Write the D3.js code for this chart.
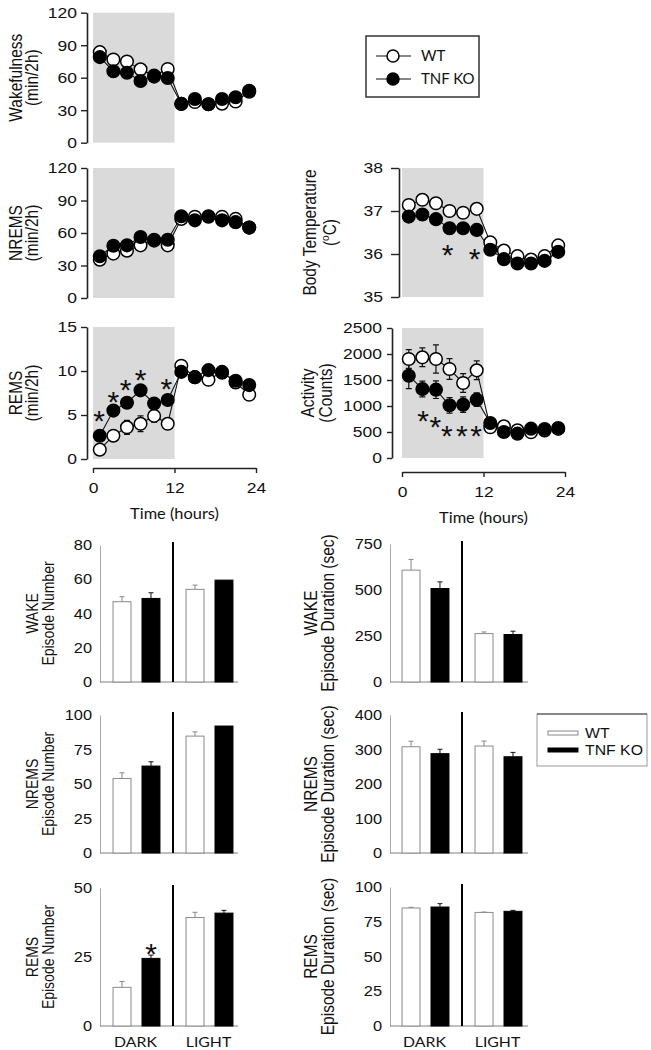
<!DOCTYPE html>
<html><head><meta charset="utf-8">
<script src="https://cdn.jsdelivr.net/npm/d3@7"></script>
<style>body{margin:0;background:#fff}svg{display:block}</style>
</head><body>
<svg id="c" width="651" height="1050"></svg>
<script>
// ---------- DATA ----------
const hours = [1,3,5,7,9,11,13,15,17,19,21,23];
const xTicks = [0,12,24];

const wakeWT = [83.6,76.8,75,67.7,62,68,36,37.6,35.5,36,38,47];
const wakeKO = [79,66,64.6,57,61,59.7,35.8,40.4,35.5,40.4,42,48];
const wakeTicks = [0,30,60,90,120];

const nremWT = [35.4,41,43.7,48.6,53,48.6,73,75,75,75,73,65];
const nremKO = [38.5,48.3,48.6,56.3,53.8,53.8,75.4,71.7,75.4,71.7,70,65];
const nremTicks = [0,30,60,90,120];

const remWT = [1.06,2.65,3.6,4.0,4.9,4.0,10.6,9.3,9.0,9.9,8.7,7.3];
const remKO = [2.65,5.5,6.4,7.8,6.3,6.7,9.9,9.3,10.1,9.8,8.9,8.4];
const remWTerr = [0.2,0.3,0.8,0.9,0.7,0.3,0.3,0.5,0.6,0.4,0.4,0.3];
const remKOerr = [0.3,0.3,0.3,0.3,0.3,0.3,0.3,0.4,0.4,0.3,0.4,0.3];
const remTicks = [0,5,10,15];
const remStars = [[0.9,5.3],[3,7.5],[4.8,8.8],[7,10.0],[10.8,8.9]];

const tempWT = [37.14,37.26,37.18,37.0,36.96,37.05,36.27,36.08,35.95,35.87,35.95,36.2];
const tempKO = [36.87,36.92,36.81,36.6,36.6,36.56,36.1,35.88,35.78,35.78,35.84,36.05];
const tempWTerr = [0.05,0.05,0.05,0.05,0.05,0.05,0.04,0.04,0.04,0.04,0.04,0.04];
const tempKOerr = [0.1,0.12,0.08,0.06,0.08,0.06,0.05,0.05,0.05,0.05,0.05,0.05];
const tempTicks = [35,36,37,38];
const tempStars = [[6.7,36.17],[10.7,36.09]];

const actWT = [1904,1936,1904,1711,1442,1686,590,609,532,494,530,560];
const actKO = [1583,1327,1314,1013,1026,1122,673,500,468,564,557,577];
const actWTerr = [180,180,270,200,180,180,40,40,40,40,40,40];
const actKOerr = [250,150,170,150,150,130,40,40,40,40,40,40];
const actTicks = [0,500,1000,1500,2000,2500];
const actStars = [[3.1,878],[4.9,769],[6.6,596],[8.8,596],[10.9,596]];

const periods = ["DARK","LIGHT"];
const groups = ["WT","TNF KO"];

const wakeNumWT = [46.9,54.1], wakeNumWTerr = [2.9,2.5];
const wakeNumKO = [48.8,59.5], wakeNumKOerr = [3.3,0];
const wakeNumTicks = [0,20,40,60,80];

const wakeDurWT = [608,263], wakeDurWTerr = [58,9];
const wakeDurKO = [508,258], wakeDurKOerr = [36,18];
const wakeDurTicks = [0,250,500,750];

const nremNumWT = [54,84.7], nremNumWTerr = [4.1,3.1];
const nremNumKO = [63,92], nremNumKOerr = [3.1,0];
const nremNumTicks = [0,25,50,75,100];

const nremDurWT = [308,310], nremDurWTerr = [16,14.5];
const nremDurKO = [288,279], nremDurKOerr = [12.6,12.6];
const nremDurTicks = [0,100,200,300,400];

const remNumWT = [14,39.3], remNumWTerr = [2.1,1.9];
const remNumKO = [24.5,40.9], remNumKOerr = [1.2,1];
const remNumTicks = [0,25,50];
const remNumStars = [["DARK","TNF KO",29.3]];

const remDurWT = [84.9,81.7], remDurWTerr = [0.5,0.3];
const remDurKO = [85.6,82.5], remDurKOerr = [2.4,0.7];
const remDurTicks = [0,25,50,75,100];

// ---------- DRAWING ----------
const svg = d3.select('#c');
const SX = 1.13;
const ARIAL = '"Liberation Sans", Arial, sans-serif';
const CAL = 'Lato, "Open Sans", sans-serif';
const fmt = d3.format('d');

function stretch(sel){
  sel.each(function(){
    const t = d3.select(this);
    const x = +t.attr('x') || 0, y = +t.attr('y') || 0;
    t.attr('x', null).attr('y', null)
     .attr('transform', `translate(${x},${y}) scale(${SX},1)`);
  });
}
function vlabel(g, bx, cy, size, fam){
  return g.append('text')
    .attr('transform', `translate(${bx},${cy}) scale(${SX},1) rotate(-90)`)
    .attr('text-anchor','middle')
    .style('font-family', fam || ARIAL).style('font-size', size+'px').attr('fill','#111');
}
function htext(g, x, y, txt, size, fam, anchor){
  return g.append('text')
    .attr('transform', `translate(${x},${y}) scale(${SX},1)`)
    .attr('text-anchor', anchor || 'middle')
    .style('font-family', fam || ARIAL).style('font-size', size+'px').attr('fill','#111')
    .text(txt);
}
function stars(g, data, px, py){
  g.append('g').selectAll('text').data(data).join('text')
    .attr('x',px).attr('y',py).attr('dy','0.62em')
    .attr('text-anchor','middle')
    .style('font-family',ARIAL).style('font-size','30px').attr('fill','#111')
    .text('*');
}

function linePanel(o){
  const g = svg.append('g');
  const x = d3.scaleLinear([0,24],[o.x0,o.x1]);
  const y = d3.scaleLinear(o.domain,[o.yBot,o.yTop]);
  g.append('rect').attr('x',x(0)).attr('y',o.yTop)
    .attr('width',x(12)-x(0)).attr('height',o.yBot-o.yTop).attr('fill','#dadada');
  const ya = g.append('g').attr('transform',`translate(${o.axisX},0)`)
    .call(d3.axisLeft(y).tickValues(o.ticks).tickFormat(fmt).tickSize(o.tick).tickSizeOuter(0).tickPadding(o.pad));
  ya.select('.domain').attr('stroke','#222').attr('stroke-width',1.6);
  ya.selectAll('.tick line').attr('stroke','#222').attr('stroke-width',1.4);
  ya.selectAll('text').style('font-family',ARIAL).style('font-size','15.5px').attr('fill','#111');
  stretch(ya.selectAll('text'));

  const series = [
    {v:o.wt, e:o.wtErr, fill:'#fff'},
    {v:o.ko, e:o.koErr, fill:'#000'}
  ];
  series.forEach(s=>{
    if(!s.e) return;
    g.append('g').selectAll('path')
      .data(hours.map((h,i)=>({h, v:s.v[i], e:s.e[i]})))
      .join('path')
      .attr('d', d=>`M${x(d.h)},${y(d.v-d.e)}V${y(d.v+d.e)}M${x(d.h)-3},${y(d.v+d.e)}h6M${x(d.h)-3},${y(d.v-d.e)}h6`)
      .attr('stroke','#111').attr('stroke-width',1.2).attr('fill','none');
  });
  const line = d3.line().x((d,i)=>x(hours[i])).y(d=>y(d));
  series.forEach(s=>{
    g.append('path').datum(s.v).attr('d',line)
      .attr('fill','none').attr('stroke','#111').attr('stroke-width',1.1);
  });
  series.forEach(s=>{
    g.append('g').selectAll('circle').data(s.v).join('circle')
      .attr('cx',(d,i)=>x(hours[i])).attr('cy',d=>y(d)).attr('r',6.3)
      .attr('fill',s.fill).attr('stroke','#000').attr('stroke-width',1.5);
  });
  if(o.stars) stars(g, o.stars, d=>x(d[0]), d=>y(d[1]));
  if(o.xAxisY){
    const xa = g.append('g').attr('transform',`translate(0,${o.xAxisY})`)
      .call(d3.axisBottom(x).tickValues(xTicks).tickFormat(fmt).tickSize(5).tickSizeOuter(0).tickPadding(9));
    xa.select('.domain').attr('stroke','#222').attr('stroke-width',1.6);
    xa.selectAll('.tick line').attr('stroke','#222').attr('stroke-width',1.4);
    xa.selectAll('text').style('font-family',ARIAL).style('font-size','15.5px').attr('fill','#111');
    stretch(xa.selectAll('text'));
    htext(g, x(12), o.xAxisY+51, 'Time (hours)', 14.5, CAL);
  }
  const cy = (o.yTop+o.yBot)/2;
  vlabel(g, o.lab[0], cy, 15.5).text(o.labels[0]);
  const l2 = vlabel(g, o.lab[1], cy, 15.5);
  if(o.labels[1]==='(oC)'){
    l2.append('tspan').text('(');
    l2.append('tspan').text('o').attr('dy',-6).style('font-size','10px');
    l2.append('tspan').text('C)').attr('dy',6);
  } else l2.text(o.labels[1]);
}

linePanel({x0:93,x1:256,yTop:12.7,yBot:142.7,axisX:87,tick:6,pad:4,domain:[0,120],ticks:wakeTicks,
  wt:wakeWT,ko:wakeKO,labels:['Wakefulness','(min/2h)'],lab:[22,38]});
linePanel({x0:93,x1:256,yTop:168,yBot:298,axisX:87,tick:6,pad:4,domain:[0,120],ticks:nremTicks,
  wt:nremWT,ko:nremKO,labels:['NREMS','(min/2h)'],lab:[22,38]});
linePanel({x0:93,x1:256,yTop:327,yBot:459,axisX:87,tick:6,pad:4,domain:[0,15],ticks:remTicks,
  wt:remWT,ko:remKO,wtErr:remWTerr,koErr:remKOerr,stars:remStars,xAxisY:468,
  labels:['REMS','(min/2h)'],lab:[22,38]});
linePanel({x0:402,x1:565,yTop:168,yBot:297,axisX:399,tick:8,pad:8,domain:[35,38],ticks:tempTicks,
  wt:tempWT,ko:tempKO,wtErr:tempWTerr,koErr:tempKOerr,stars:tempStars,
  labels:['Body Temperature','(oC)'],lab:[316,336]});
linePanel({x0:402,x1:565,yTop:328,yBot:458,axisX:392,tick:5,pad:5,domain:[0,2500],ticks:actTicks,
  wt:actWT,ko:actKO,wtErr:actWTerr,koErr:actKOerr,stars:actStars,xAxisY:472,
  labels:['Activity','(Counts)'],lab:[314,332]});

// top legend
{
  const g = svg.append('g');
  g.append('rect').attr('x',366).attr('y',36).attr('width',113).attr('height',61)
    .attr('fill','#fff').attr('stroke','#333').attr('stroke-width',1.5);
  const items = [{name:groups[0],fill:'#fff',y:56},{name:groups[1],fill:'#000',y:79}];
  items.forEach(it=>{
    g.append('line').attr('x1',376).attr('x2',411).attr('y1',it.y).attr('y2',it.y)
      .attr('stroke','#111').attr('stroke-width',1.2);
    g.append('circle').attr('cx',393).attr('cy',it.y).attr('r',6)
      .attr('fill',it.fill).attr('stroke','#000').attr('stroke-width',1.5);
    g.append('text').attr('x',421).attr('y',it.y+5).style('font-family',CAL)
      .style('font-size','15px').attr('fill','#111').text(it.name);
  });
}

function barPanel(o){
  const g = svg.append('g');
  const xb = d3.scaleBand(periods,[o.bandX, o.bandX+146]);
  const xi = d3.scaleBand(groups,[0, xb.bandwidth()]).paddingInner(0.38).paddingOuter(0.45);
  const y = d3.scaleLinear(o.domain,[o.yBot,o.yTop]);
  const ya = g.append('g').attr('transform',`translate(${o.axisX},0)`)
    .call(d3.axisLeft(y).tickValues(o.ticks).tickFormat(fmt).tickSize(0).tickPadding(8));
  ya.select('.domain').attr('stroke','#a8a8a8').attr('stroke-width',1);
  ya.selectAll('text').style('font-family',ARIAL).style('font-size','14.5px').attr('fill','#111');
  stretch(ya.selectAll('text'));
  g.append('line').attr('x1',o.axisX).attr('x2',o.axisX+138).attr('y1',o.yBot).attr('y2',o.yBot)
    .attr('stroke','#808080').attr('stroke-width',1.2);
  const data = [];
  periods.forEach((p,i)=>{
    data.push({p,gr:groups[0],v:o.wt[i],e:o.wtErr[i]});
    data.push({p,gr:groups[1],v:o.ko[i],e:o.koErr[i]});
  });
  g.append('g').selectAll('path').data(data.filter(d=>d.e>0)).join('path')
    .attr('d',d=>{const cx=xb(d.p)+xi(d.gr)+xi.bandwidth()/2;
      return `M${cx},${y(d.v)}V${y(d.v+d.e)}M${cx-2.5},${y(d.v+d.e)}h5`;})
    .attr('stroke',d=>d.gr===groups[0]?'#888':'#111').attr('stroke-width',1).attr('fill','none');
  g.append('g').selectAll('rect').data(data).join('rect')
    .attr('x',d=>xb(d.p)+xi(d.gr)).attr('width',xi.bandwidth())
    .attr('y',d=>y(d.v)).attr('height',d=>o.yBot-y(d.v))
    .attr('fill',d=>d.gr===groups[0]?'#fff':'#000')
    .attr('stroke',d=>d.gr===groups[0]?'#8a8a8a':'#000').attr('stroke-width',1);
  g.append('line').attr('x1',xb('LIGHT')).attr('x2',xb('LIGHT'))
    .attr('y1',o.yTop-3).attr('y2',o.yBot).attr('stroke','#000').attr('stroke-width',2);
  if(o.stars) stars(g, o.stars, d=>xb(d[0])+xi(d[1])+xi.bandwidth()/2, d=>y(d[2]));
  if(o.showX){
    periods.forEach(p=>htext(g, xb(p)+xb.bandwidth()/2-1, 1047, p, 14, CAL));
  }
  const cy=(o.yTop+o.yBot)/2;
  vlabel(g, o.lab[0], cy, o.fs).text(o.labels[0]);
  vlabel(g, o.lab[1], cy, o.fs).text(o.labels[1]);
}

barPanel({bandX:100,axisX:100,yTop:545,yBot:682,domain:[0,80],ticks:wakeNumTicks,
  wt:wakeNumWT,wtErr:wakeNumWTerr,ko:wakeNumKO,koErr:wakeNumKOerr,fs:14,
  labels:['WAKE','Episode Number'],lab:[38,54]});
barPanel({bandX:389,axisX:390,yTop:544,yBot:682,domain:[0,750],ticks:wakeDurTicks,
  wt:wakeDurWT,wtErr:wakeDurWTerr,ko:wakeDurKO,koErr:wakeDurKOerr,fs:15.5,
  labels:['WAKE','Episode Duration (sec)'],lab:[317,334]});
barPanel({bandX:100,axisX:100,yTop:715,yBot:853,domain:[0,100],ticks:nremNumTicks,
  wt:nremNumWT,wtErr:nremNumWTerr,ko:nremNumKO,koErr:nremNumKOerr,fs:14,
  labels:['NREMS','Episode Number'],lab:[38,54]});
barPanel({bandX:389,axisX:390,yTop:715,yBot:853,domain:[0,400],ticks:nremDurTicks,
  wt:nremDurWT,wtErr:nremDurWTerr,ko:nremDurKO,koErr:nremDurKOerr,fs:15.5,
  labels:['NREMS','Episode Duration (sec)'],lab:[317,334]});
barPanel({bandX:100,axisX:100,yTop:888,yBot:1026,domain:[0,50],ticks:remNumTicks,
  wt:remNumWT,wtErr:remNumWTerr,ko:remNumKO,koErr:remNumKOerr,stars:remNumStars,showX:true,fs:14,
  labels:['REMS','Episode Number'],lab:[38,54]});
barPanel({bandX:389,axisX:390,yTop:887,yBot:1026,domain:[0,100],ticks:remDurTicks,
  wt:remDurWT,wtErr:remDurWTerr,ko:remDurKO,koErr:remDurKOerr,showX:true,fs:15.5,
  labels:['REMS','Episode Duration (sec)'],lab:[317,334]});

// bar legend
{
  const g = svg.append('g');
  g.append('rect').attr('x',537).attr('y',714).attr('width',110).attr('height',52)
    .attr('fill','#fff').attr('stroke','#999').attr('stroke-width',1);
  g.append('line').attr('x1',537).attr('x2',647).attr('y1',714).attr('y2',714)
    .attr('stroke','#444').attr('stroke-width',1.2);
  const items=[{name:groups[0],fill:'#fff',stroke:'#888',y:733},{name:groups[1],fill:'#000',stroke:'#000',y:750}];
  items.forEach(it=>{
    g.append('rect').attr('x',548).attr('y',it.y-2).attr('width',30).attr('height',4)
      .attr('fill',it.fill).attr('stroke',it.stroke).attr('stroke-width',1);
    g.append('text').attr('transform',`translate(585,${it.y+5}) scale(${SX},1)`)
      .style('font-family',ARIAL).style('font-size','14px').attr('fill','#111').text(it.name);
  });
}
</script>
</body></html>
